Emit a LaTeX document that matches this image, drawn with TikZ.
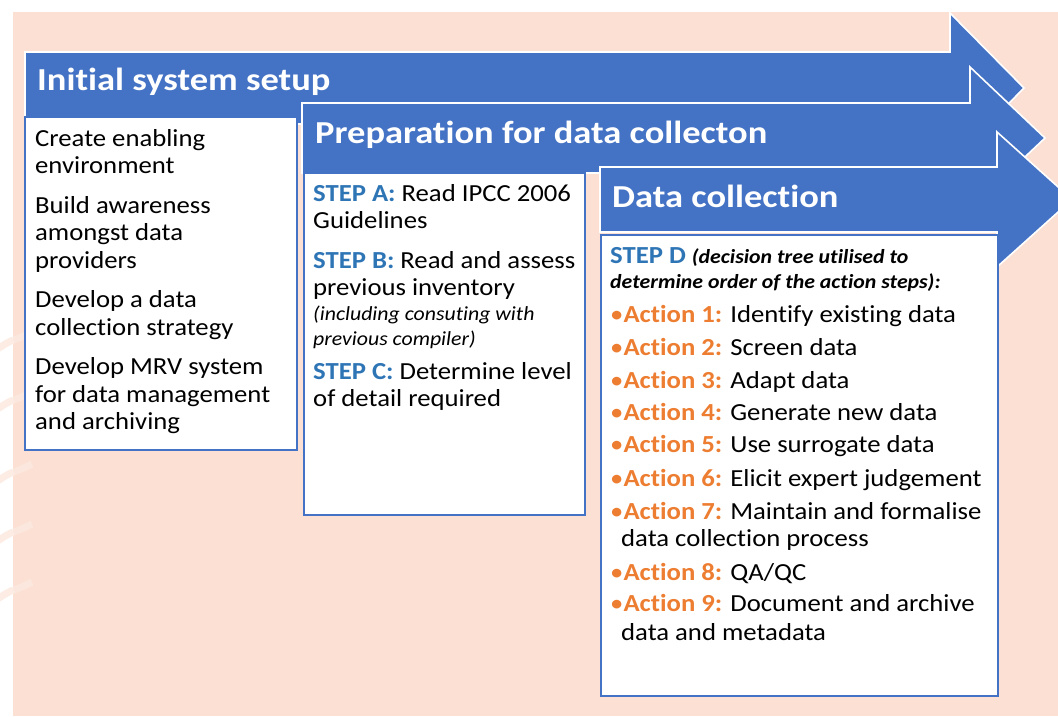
\documentclass[tikz,border=0pt]{standalone}
\usepackage{fontspec}
\setmainfont{Carlito}[FakeStretch=1.09, Ligatures=NoCommon]
\newfontfamily\ttlfont{Carlito}[FakeStretch=1.14, Ligatures=NoCommon]
\definecolor{peach}{HTML}{FBE0D3}
\definecolor{abl}{HTML}{4472C4}
\definecolor{stepblue}{HTML}{2E75B6}
\definecolor{actor}{HTML}{ED7D31}
\newcommand{\stpl}[1]{\textcolor{stepblue}{\bfseries #1}}
\newcommand{\actl}[1]{\textcolor{actor}{•\bfseries #1}}
\begin{document}
\begin{tikzpicture}[x=1pt,y=-1pt,
  arrowshape/.style={fill=abl, draw=white, line width=1.6pt, line join=miter},
  panel/.style={fill=white, draw=abl, line width=2pt},
  ttl/.style={anchor=base west, inner sep=0, text=white, font=\ttlfont\fontsize{32}{36}\selectfont\bfseries},
  body/.style={anchor=base west, inner sep=0, font=\fontsize{24.5}{27}\selectfont},
  note/.style={anchor=base west, inner sep=0, font=\fontsize{20}{22}\selectfont\itshape},
  bnote/.style={anchor=base west, inner sep=0, font=\fontsize{20}{22}\selectfont\bfseries\itshape}]
\useasboundingbox (0,0) rectangle (1058,716);
\clip (0,0) rectangle (1058,716);
\fill[white] (0,0) rectangle (1058,716);
\fill[peach] (13,12) rectangle (1058,716);
% faint decorative bands at the left edge
\foreach \yy in {340,400,472,532,590}{
  \draw[peach!60, line width=7pt] (-4,\yy+10) .. controls (5,\yy+4) and (10,\yy+1) .. (13.5,\yy);
  \draw[white, opacity=0.25, line width=7pt] (13.5,\yy) .. controls (20,\yy-2) and (26,\yy-5) .. (32,\yy-8);
}
% arrow 1 and panel 1
\draw[arrowshape] (25,52) -- (950,52) -- (950,13) -- (1024,88) -- (950,163) -- (950,124) -- (25,124) -- cycle;
\node[ttl] (t1) at (37,90) {Initial system setup};
\draw[panel] (25,117) rectangle (297,450);
\node[body] (a1) at (35,146) {Create enabling};
\node[body] (a2) at (35,173.5) {environment};
\node[body] (a3) at (35,213) {Build awareness};
\node[body] (a4) at (35,240.5) {amongst data};
\node[body] (a5) at (35,268) {providers};
\node[body] (a6) at (35,307.5) {Develop a data};
\node[body] (a7) at (35,335) {collection strategy};
\node[body] (a8) at (35,374.5) {Develop MRV system};
\node[body] (a9) at (35,402) {for data management};
\node[body] (a10) at (35,429.5) {and archiving};
% arrow 2 and panel 2
\draw[arrowshape] (302,103) -- (970,103) -- (970,67) -- (1045,138) -- (970,209) -- (970,173) -- (302,173) -- cycle;
\node[ttl] (t2) at (315,143) {Preparation for data collecton};
\draw[panel] (304,173) rectangle (585,515);
\node[body] (b1) at (313,201.7) {\stpl{STEP A:} Read IPCC 2006};
\node[body] (b2) at (313,228) {Guidelines};
\node[body] (b3) at (313,268) {\stpl{STEP B:} Read and assess};
\node[body] (b4) at (313,295) {previous inventory};
\node[note] (b5) at (313,320.7) {(including consuting with};
\node[note] (b6) at (313,345) {previous compiler)};
\node[body] (b7) at (313,379) {\stpl{STEP C:} Determine level};
\node[body] (b8) at (313,406.7) {of detail required};
% arrow 3 and panel 3
\draw[arrowshape] (600,167) -- (997,167) -- (997,132) -- (1072,199.5) -- (997,267) -- (997,232) -- (600,232) -- cycle;
\node[ttl] (t3) at (612,207) {Data collection};
\draw[panel] (601,235) rectangle (998,696);
\node[body] (c0) at (610,263) {\stpl{STEP D} \fontsize{20}{22}\selectfont\bfseries\itshape(decision tree utilised to};
\node[bnote] (c0b) at (610,288) {determine order of the action steps):};
\node[body] (c1) at (610,322.7) {\actl{Action 1:} Identify existing data};
\node[body] (c2) at (610,355) {\actl{Action 2:} Screen data};
\node[body] (c3) at (610,388) {\actl{Action 3:} Adapt data};
\node[body] (c4) at (610,420.7) {\actl{Action 4:} Generate new data};
\node[body] (c5) at (610,452.7) {\actl{Action 5:} Use surrogate data};
\node[body] (c6) at (610,486.7) {\actl{Action 6:} Elicit expert judgement};
\node[body] (c7) at (610,519.3) {\actl{Action 7:} Maintain and formalise};
\node[body] (c7b) at (621,546) {data collection process};
\node[body] (c8) at (610,580) {\actl{Action 8:} QA/QC};
\node[body] (c9) at (610,611.7) {\actl{Action 9:} Document and archive};
\node[body] (c9b) at (621,640) {data and metadata};
\end{tikzpicture}
\end{document}
